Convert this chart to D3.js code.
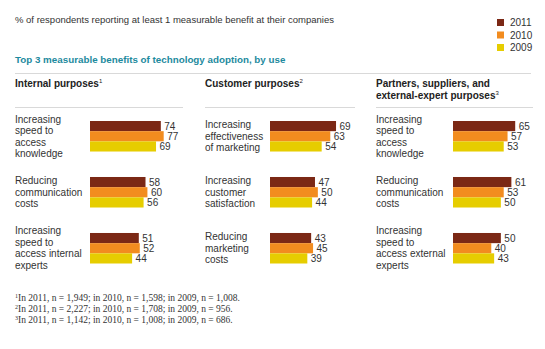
<!DOCTYPE html>
<html>
<head>
<meta charset="utf-8">
<script src="https://cdn.jsdelivr.net/npm/d3@7"></script>
<style>
  html, body { margin: 0; padding: 0; background: #fff; }
  svg { display: block; }
  text { font-family: "Liberation Sans", Arial, sans-serif; }
  text.note { font-family: "Liberation Serif", "Times New Roman", serif; }
</style>
</head>
<body>
<svg id="chart" width="545" height="349"></svg>
<script>
// Survey series, one value per benefit (three benefits per purpose group)
const years = ["2011", "2010", "2009"];
const yearColors = ["#7b2815", "#f28c1f", "#e6cd00"];

const groupTitles = [
  ["Internal purposes"],
  ["Customer purposes"],
  ["Partners, suppliers, and", "external-expert purposes"]
];
const groupNotes = ["1", "2", "3"];

const benefitLabels = [
  [["Increasing", "speed to", "access", "knowledge"],
   ["Reducing", "communication", "costs"],
   ["Increasing", "speed to", "access internal", "experts"]],
  [["Increasing", "effectiveness", "of marketing"],
   ["Increasing", "customer", "satisfaction"],
   ["Reducing", "marketing", "costs"]],
  [["Increasing", "speed to", "access", "knowledge"],
   ["Reducing", "communication", "costs"],
   ["Increasing", "speed to", "access external", "experts"]]
];

const values2011 = [[74, 58, 51], [69, 47, 43], [65, 61, 50]];
const values2010 = [[77, 60, 52], [63, 50, 45], [57, 53, 40]];
const values2009 = [[69, 56, 44], [54, 44, 39], [53, 50, 43]];

const footnotes = [
  "In 2011, n = 1,949; in 2010, n = 1,598; in 2009, n = 1,008.",
  "In 2011, n = 2,227; in 2010, n = 1,708; in 2009, n = 956.",
  "In 2011, n = 1,142; in 2010, n = 1,008; in 2009, n = 686."
];

const subtitle = "% of respondents reporting at least 1 measurable benefit at their companies";
const title = "Top 3 measurable benefits of technology adoption, by use";

const seriesByYear = [values2011, values2010, values2009];

const svg = d3.select("#chart");
const textColor = "#333";
const ruleColor = "#d9d9d9";

// Subtitle
svg.append("text")
  .attr("x", 15).attr("y", 23)
  .attr("font-size", 9.5).attr("fill", textColor)
  .text(subtitle);

// Legend
const legend = svg.append("g").attr("transform", "translate(497,19)");
years.forEach((yr, i) => {
  const g = legend.append("g").attr("transform", `translate(0,${i * 12.5})`);
  g.append("rect").attr("width", 7).attr("height", 7).attr("fill", yearColors[i]);
  g.append("text").attr("x", 13).attr("y", 7).attr("font-size", 10)
    .attr("fill", textColor).text(yr);
});

// Title and rule
svg.append("text")
  .attr("x", 15).attr("y", 63)
  .attr("font-size", 9.8).attr("font-weight", "bold").attr("fill", "#1d8a9e")
  .text(title);
svg.append("line")
  .attr("x1", 15).attr("x2", 531).attr("y1", 73.5).attr("y2", 73.5)
  .attr("stroke", ruleColor).attr("stroke-width", 1);

// Panel geometry
const panelX = [15, 205, 376];
const panelRuleEnd = [183, 355, 533];
const barStart = [90, 270, 453];

const x = d3.scaleLinear().domain([0, 100]).range([0, 95.7]);
const groupY = d3.scaleBand().domain([0, 1, 2]).range([121, 263.5]).paddingInner(0.455).paddingOuter(0);
// each group's band splits into the three years
const yearY = d3.scaleBand().domain(years).range([0, groupY.bandwidth()]);
const lineH = 11.5;

groupTitles.forEach((lines, p) => {
  const px = panelX[p];
  const head = svg.append("text")
    .attr("x", px).attr("y", 87)
    .attr("font-size", 10).attr("font-weight", "bold").attr("fill", "#222");
  lines.forEach((ln, li) => {
    head.append("tspan").attr("x", px).attr("y", 87 + li * 12).text(ln);
    if (li === lines.length - 1) {
      head.append("tspan").attr("dy", -4).attr("font-size", 6)
        .attr("font-weight", "normal").text(groupNotes[p]);
    }
  });
  svg.append("line")
    .attr("x1", px).attr("x2", panelRuleEnd[p]).attr("y1", 107.5).attr("y2", 107.5)
    .attr("stroke", ruleColor).attr("stroke-width", 1);

  benefitLabels[p].forEach((labelLines, b) => {
    const top = groupY(b);
    const center = top + groupY.bandwidth() / 2;
    const firstBase = center - (labelLines.length - 1) / 2 * lineH + 3.5;
    const lbl = svg.append("text").attr("font-size", 10).attr("fill", textColor);
    labelLines.forEach((ln, li) => {
      lbl.append("tspan").attr("x", px).attr("y", firstBase + li * lineH).text(ln);
    });

    years.forEach((yr, yi) => {
      const v = seriesByYear[yi][p][b];
      svg.append("rect")
        .attr("x", barStart[p])
        .attr("y", top + yearY(yr))
        .attr("width", x(v))
        .attr("height", yearY.bandwidth())
        .attr("fill", yearColors[yi]);
      svg.append("text")
        .attr("x", barStart[p] + x(v) + 3.5)
        .attr("y", top + yearY(yr) + yearY.bandwidth() / 2 + 3.6)
        .attr("font-size", 10).attr("fill", textColor)
        .text(v);
    });
  });
});

// Footnotes
footnotes.forEach((f, i) => {
  const t = svg.append("text")
    .attr("class", "note")
    .attr("x", 15).attr("y", 301 + i * 10.8)
    .attr("font-size", 9.5).attr("fill", textColor);
  t.append("tspan").attr("font-size", 6).attr("dy", -3).text(groupNotes[i]);
  t.append("tspan").attr("dy", 3).text(f);
});
</script>
</body>
</html>
